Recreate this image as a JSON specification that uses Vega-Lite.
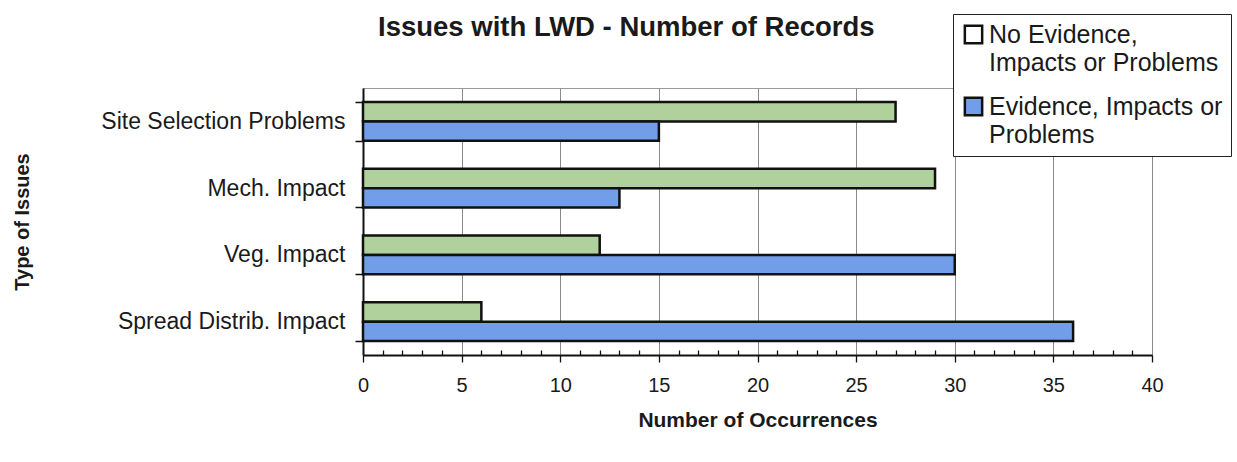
{
  "$schema": "https://vega.github.io/schema/vega-lite/v6.json",
  "autosize": {"type": "none"},
  "width": 789,
  "height": 267,
  "padding": {"left": 363, "top": 88, "right": 85, "bottom": 107},
  "background": "white",
  "config": {
    "font": "Liberation Sans",
    "view": {"stroke": "#9a9a9a", "strokeWidth": 1}
  },
  "title": {
    "text": "Issues with LWD - Number of Records",
    "anchor": "start",
    "frame": "group",
    "dx": 15,
    "offset": -50,
    "fontSize": 27.5,
    "fontWeight": "bold",
    "color": "#1a1a1a",
    "baseline": "alphabetic"
  },
  "data": {
    "values": [
      {"issue": "Site Selection Problems", "status": "No Evidence, Impacts or Problems", "count": 27},
      {"issue": "Site Selection Problems", "status": "Evidence, Impacts or Problems", "count": 15},
      {"issue": "Mech. Impact", "status": "No Evidence, Impacts or Problems", "count": 29},
      {"issue": "Mech. Impact", "status": "Evidence, Impacts or Problems", "count": 13},
      {"issue": "Veg. Impact", "status": "No Evidence, Impacts or Problems", "count": 12},
      {"issue": "Veg. Impact", "status": "Evidence, Impacts or Problems", "count": 30},
      {"issue": "Spread Distrib. Impact", "status": "No Evidence, Impacts or Problems", "count": 6},
      {"issue": "Spread Distrib. Impact", "status": "Evidence, Impacts or Problems", "count": 36}
    ]
  },
  "mark": {"type": "bar", "stroke": "#111111", "strokeWidth": 2.5},
  "encoding": {
    "y": {
      "field": "issue",
      "type": "nominal",
      "sort": ["Site Selection Problems", "Mech. Impact", "Veg. Impact", "Spread Distrib. Impact"],
      "scale": {"paddingInner": 0.42, "paddingOuter": 0.21},
      "axis": {
        "title": "Type of Issues",
        "titleFontSize": 20,
        "titleFontWeight": "bold",
        "titleColor": "#1a1a1a",
        "titlePadding": 131,
        "labelFontSize": 23,
        "labelColor": "#1a1a1a",
        "labelPadding": 10,
        "labelLimit": 400,
        "tickBand": "extent",
        "tickSize": 8,
        "tickColor": "#111111",
        "tickWidth": 1.5,
        "domainColor": "#111111",
        "domainWidth": 2,
        "grid": false
      }
    },
    "yOffset": {
      "field": "status",
      "type": "nominal",
      "sort": ["No Evidence, Impacts or Problems", "Evidence, Impacts or Problems"]
    },
    "x": {
      "field": "count",
      "type": "quantitative",
      "scale": {"domain": [0, 40], "nice": false},
      "axis": {
        "title": "Number of Occurrences",
        "titleFontSize": 21,
        "titleFontWeight": "bold",
        "titleColor": "#1a1a1a",
        "titlePadding": 14,
        "values": [0,1,2,3,4,5,6,7,8,9,10,11,12,13,14,15,16,17,18,19,20,21,22,23,24,25,26,27,28,29,30,31,32,33,34,35,36,37,38,39,40],
        "labelExpr": "datum.value % 5 === 0 ? datum.label : ''",
        "labelFontSize": 20,
        "labelColor": "#1a1a1a",
        "labelPadding": 13,
        "labelFlush": false,
        "labelOverlap": false,
        "tickSize": {"condition": {"test": "datum.value % 5 === 0", "value": 7}, "value": -5},
        "tickColor": "#111111",
        "tickWidth": 1.3,
        "domainColor": "#111111",
        "domainWidth": 2,
        "grid": true,
        "gridColor": "#8a8a8a",
        "gridWidth": 1,
        "gridOpacity": {"condition": {"test": "datum.value % 5 === 0", "value": 1}, "value": 0}
      }
    },
    "color": {
      "field": "status",
      "type": "nominal",
      "scale": {
        "domain": ["No Evidence, Impacts or Problems", "Evidence, Impacts or Problems"],
        "range": ["#b1d19c", "#729de8"]
      },
      "legend": {
        "title": null,
        "orient": "none",
        "legendX": 590,
        "legendY": -74,
        "fillColor": "white",
        "strokeColor": "#222222",
        "padding": 8,
        "symbolType": "square",
        "symbolSize": 300,
        "symbolStrokeColor": "#111111",
        "symbolStrokeWidth": 2.5,
        "labelFontSize": 25,
        "labelColor": "#1a1a1a",
        "labelLimit": 400,
        "labelOffset": 3,
        "labelBaseline": "top",
        "rowPadding": 16,
        "labelExpr": "datum.label === 'No Evidence, Impacts or Problems' ? ['No Evidence,', 'Impacts or Problems'] : ['Evidence, Impacts or', 'Problems']",
        "encode": {
          "symbols": {
            "update": {
              "fillOpacity": {"signal": "datum.value === 'No Evidence, Impacts or Problems' ? 0 : 1"},
              "stroke": {"value": "#111111"},
              "strokeWidth": {"value": 2.5}
            }
          },
          "labels": {
            "update": {
              "dy": {"value": -12},
              "lineHeight": {"value": 28}
            }
          }
        }
      }
    }
  }
}
